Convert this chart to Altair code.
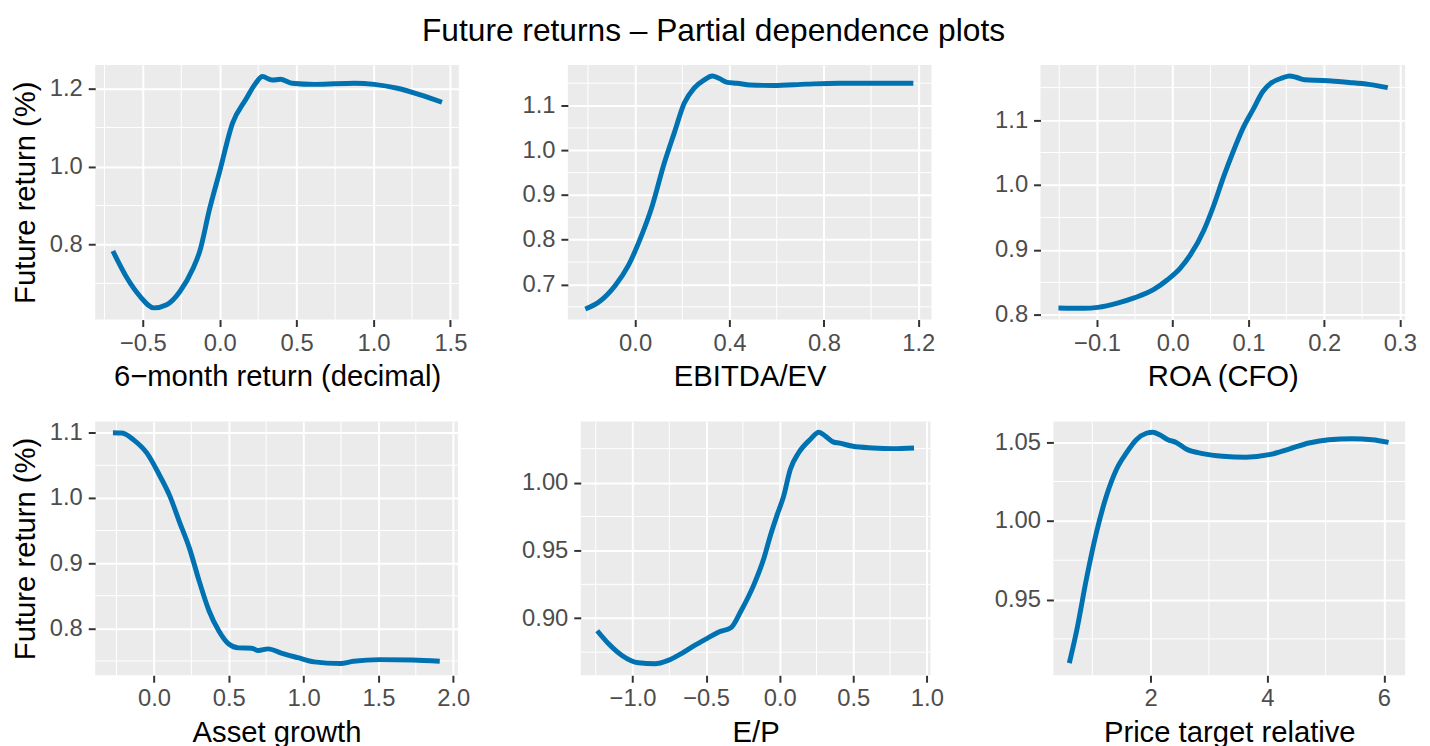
import altair as alt
import pandas as pd

TITLE = "Future returns \u2013 Partial dependence plots"
Y_TITLE = "Future return (%)"

# ---- Panel 1: 6-month return
p1_x = [-0.695, -0.602, -0.517, -0.427, -0.345, -0.259, -0.174, -0.131, -0.066, -0.002, 0.084, 0.169,
        0.234, 0.277, 0.341, 0.394, 0.469, 0.62, 0.877, 1.005, 1.155, 1.305, 1.445]
p1_y = [0.783, 0.713, 0.666, 0.637, 0.645, 0.679, 0.738, 0.781, 0.891, 0.985, 1.112, 1.172,
        1.214, 1.231, 1.222, 1.224, 1.214, 1.211, 1.214, 1.211, 1.201, 1.184, 1.165]
p1_xdom = [-0.81, 1.555]
p1_ydom = [0.607, 1.261]
p1_xmaj = [-0.5, 0.0, 0.5, 1.0, 1.5]
p1_xmin = [-0.75, -0.25, 0.25, 0.75, 1.25]
p1_ymaj = [0.8, 1.0, 1.2]
p1_ymin = [0.7, 0.9, 1.1]

# ---- Panel 2: EBITDA/EV
p2_x = [-0.211, -0.155, -0.085, -0.029, 0.027, 0.068, 0.124, 0.166, 0.208, 0.250, 0.292, 0.327,
        0.355, 0.390, 0.432, 0.488, 0.585, 0.725, 0.865, 1.004, 1.179]
p2_y = [0.645, 0.660, 0.697, 0.742, 0.809, 0.868, 0.972, 1.039, 1.105, 1.139, 1.157, 1.166,
        1.161, 1.152, 1.150, 1.146, 1.145, 1.148, 1.150, 1.150, 1.150]
p2_xdom = [-0.285, 1.256]
p2_ydom = [0.6215, 1.191]
p2_xmaj = [0.0, 0.4, 0.8, 1.2]
p2_xmin = [-0.2, 0.2, 0.6, 1.0]
p2_ymaj = [0.7, 0.8, 0.9, 1.0, 1.1]
p2_ymin = [0.65, 0.75, 0.85, 0.95, 1.05, 1.15]

# ---- Panel 3: ROA (CFO)
p3_x = [-0.151, -0.117, -0.099, -0.073, -0.051, -0.025, -0.007, 0.010, 0.023, 0.041, 0.054, 0.067,
        0.080, 0.093, 0.106, 0.119, 0.130, 0.145, 0.154, 0.163, 0.174, 0.198, 0.233, 0.259, 0.284]
p3_y = [0.8105, 0.810, 0.8115, 0.818, 0.826, 0.839, 0.854, 0.872, 0.892, 0.930, 0.968, 1.012,
        1.052, 1.088, 1.116, 1.144, 1.157, 1.165, 1.168, 1.166, 1.162, 1.161, 1.158, 1.155, 1.150]
p3_xdom = [-0.1747, 0.307]
p3_ydom = [0.7927, 1.185]
p3_xmaj = [-0.1, 0.0, 0.1, 0.2, 0.3]
p3_xmin = [-0.15, -0.05, 0.05, 0.15, 0.25]
p3_ymaj = [0.8, 0.9, 1.0, 1.1]
p3_ymin = [0.85, 0.95, 1.05, 1.15]

# ---- Panel 4: Asset growth
p4_x = [-0.274, -0.213, -0.136, -0.048, 0.039, 0.105, 0.171, 0.237, 0.303, 0.368, 0.434, 0.5,
        0.566, 0.654, 0.697, 0.763, 0.851, 0.961, 1.070, 1.246, 1.333, 1.509, 1.728, 1.910]
p4_y = [1.100, 1.0995, 1.089, 1.069, 1.034, 1.0035, 0.963, 0.923, 0.872, 0.827, 0.796, 0.776,
        0.770, 0.7695, 0.766, 0.7685, 0.762, 0.755, 0.7485, 0.746, 0.7495, 0.752, 0.7515, 0.7495]
p4_xdom = [-0.3925, 2.031]
p4_ydom = [0.728, 1.117]
p4_xmaj = [0.0, 0.5, 1.0, 1.5, 2.0]
p4_xmin = [-0.25, 0.25, 0.75, 1.25, 1.75]
p4_ymaj = [0.8, 0.9, 1.0, 1.1]
p4_ymin = [0.75, 0.85, 0.95, 1.05]

# ---- Panel 5: E/P
p5_x = [-1.240, -1.161, -1.072, -0.960, -0.848, -0.758, -0.668, -0.578, -0.489, -0.410, -0.332,
        -0.265, -0.175, -0.108, -0.063, -0.018, 0.027, 0.072, 0.128, 0.206, 0.267, 0.307, 0.363,
        0.408, 0.498, 0.632, 0.767, 0.913]
p5_y = [0.8908, 0.881, 0.8726, 0.8672, 0.8665, 0.869, 0.874, 0.880, 0.8854, 0.890, 0.893,
        0.905, 0.9248, 0.944, 0.961, 0.976, 0.990, 1.0097, 1.0218, 1.0316, 1.0371, 1.0345, 1.030,
        1.029, 1.0267, 1.0255, 1.025, 1.0255]
p5_xdom = [-1.352, 1.025]
p5_ydom = [0.858, 1.0449]
p5_xmaj = [-1.0, -0.5, 0.0, 0.5, 1.0]
p5_xmin = [-1.25, -0.75, -0.25, 0.25, 0.75]
p5_ymaj = [0.90, 0.95, 1.00]
p5_ymin = [0.875, 0.925, 0.975, 1.025]

# ---- Panel 6: Price target relative
p6_x = [0.606, 0.731, 0.902, 1.073, 1.243, 1.414, 1.585, 1.755, 1.926, 2.040, 2.154, 2.296,
        2.438, 2.609, 2.893, 3.235, 3.633, 4.031, 4.373, 4.714, 5.055, 5.454, 5.795, 6.080]
p6_y = [0.9096, 0.930, 0.9636, 0.9929, 1.0159, 1.0326, 1.0431, 1.0515, 1.0556, 1.0563, 1.0546,
        1.0515, 1.0498, 1.0456, 1.0427, 1.041, 1.0404, 1.042, 1.0456, 1.0494, 1.0515, 1.0521,
        1.0515, 1.0498]
p6_xdom = [0.333, 6.364]
p6_ydom = [0.9019, 1.063]
p6_xmaj = [2, 4, 6]
p6_xmin = [1, 3, 5]
p6_ymaj = [0.95, 1.00, 1.05]
p6_ymin = [0.925, 0.975, 1.025]

FONT = "Liberation Sans"
LINE_COLOR = "#0072B2"


def panel(xs, ys, xdom, ydom, xmaj, xmin_, ymaj, ymin_, xtitle, ytitle, xfmt, yfmt, w, h):
    xscale = alt.Scale(domain=xdom, nice=False, zero=False)
    yscale = alt.Scale(domain=ydom, nice=False, zero=False)
    xaxis = alt.Axis(values=xmaj, format=xfmt, title=xtitle, grid=True)
    yaxis = alt.Axis(values=ymaj, format=yfmt, title=ytitle if ytitle else "", grid=True)
    df = pd.DataFrame({"x": xs, "y": ys})
    vgrid = alt.Chart(pd.DataFrame({"x": xmin_})).mark_rule(color="white", strokeWidth=1).encode(
        x=alt.X("x:Q", scale=xscale, axis=xaxis)
    )
    hgrid = alt.Chart(pd.DataFrame({"y": ymin_})).mark_rule(color="white", strokeWidth=1).encode(
        y=alt.Y("y:Q", scale=yscale, axis=yaxis)
    )
    line = alt.Chart(df).mark_line(color=LINE_COLOR, strokeWidth=5, interpolate="monotone",
                                   strokeCap="butt", clip=True).encode(
        x=alt.X("x:Q", scale=xscale, axis=xaxis),
        y=alt.Y("y:Q", scale=yscale, axis=yaxis),
    )
    return alt.layer(vgrid, hgrid, line).properties(width=w, height=h)


c1 = panel(p1_x, p1_y, p1_xdom, p1_ydom, p1_xmaj, p1_xmin, p1_ymaj, p1_ymin,
           "6\u2212month return (decimal)", Y_TITLE, ".1f", ".1f", 367, 257)
c2 = panel(p2_x, p2_y, p2_xdom, p2_ydom, p2_xmaj, p2_xmin, p2_ymaj, p2_ymin,
           "EBITDA/EV", None, ".1f", ".1f", 367, 257)
c3 = panel(p3_x, p3_y, p3_xdom, p3_ydom, p3_xmaj, p3_xmin, p3_ymaj, p3_ymin,
           "ROA (CFO)", None, ".1f", ".1f", 368, 257)
c4 = panel(p4_x, p4_y, p4_xdom, p4_ydom, p4_xmaj, p4_xmin, p4_ymaj, p4_ymin,
           "Asset growth", Y_TITLE, ".1f", ".1f", 366, 256)
c5 = panel(p5_x, p5_y, p5_xdom, p5_ydom, p5_xmaj, p5_xmin, p5_ymaj, p5_ymin,
           "E/P", None, ".1f", ".2f", 353, 256)
c6 = panel(p6_x, p6_y, p6_xdom, p6_ydom, p6_xmaj, p6_xmin, p6_ymaj, p6_ymin,
           "Price target relative", None, "d", ".2f", 355, 256)

row1 = alt.hconcat(c1, c2, c3, spacing=110, bounds="flush")
row2 = alt.hconcat(c4, c5, c6, spacing=124, bounds="flush")

chart = alt.vconcat(row1, row2, spacing=29).properties(
    title=alt.TitleParams(TITLE, anchor="middle", fontSize=32, font=FONT, fontWeight="normal",
                          color="black", offset=17),
    padding={"left": 2, "top": 3, "right": 5, "bottom": 0},
    background="white",
).configure_view(
    fill="#EBEBEB", stroke=None
).configure_axis(
    domain=False, tickColor="#333333", tickWidth=2, tickSize=7,
    labelColor="#4D4D4D", labelFontSize=24, labelFont=FONT,
    titleFont=FONT, titleFontSize=29.5, titleColor="black", titleFontWeight="normal",
    gridColor="white", gridWidth=2, labelFlush=False, labelOverlap=False, labelBound=False,
).configure_axisX(
    labelPadding=5, titlePadding=8
).configure_axisY(
    labelPadding=6, titlePadding=9
)

chart.save("out.html", embed_options={"renderer": "svg", "actions": False})
